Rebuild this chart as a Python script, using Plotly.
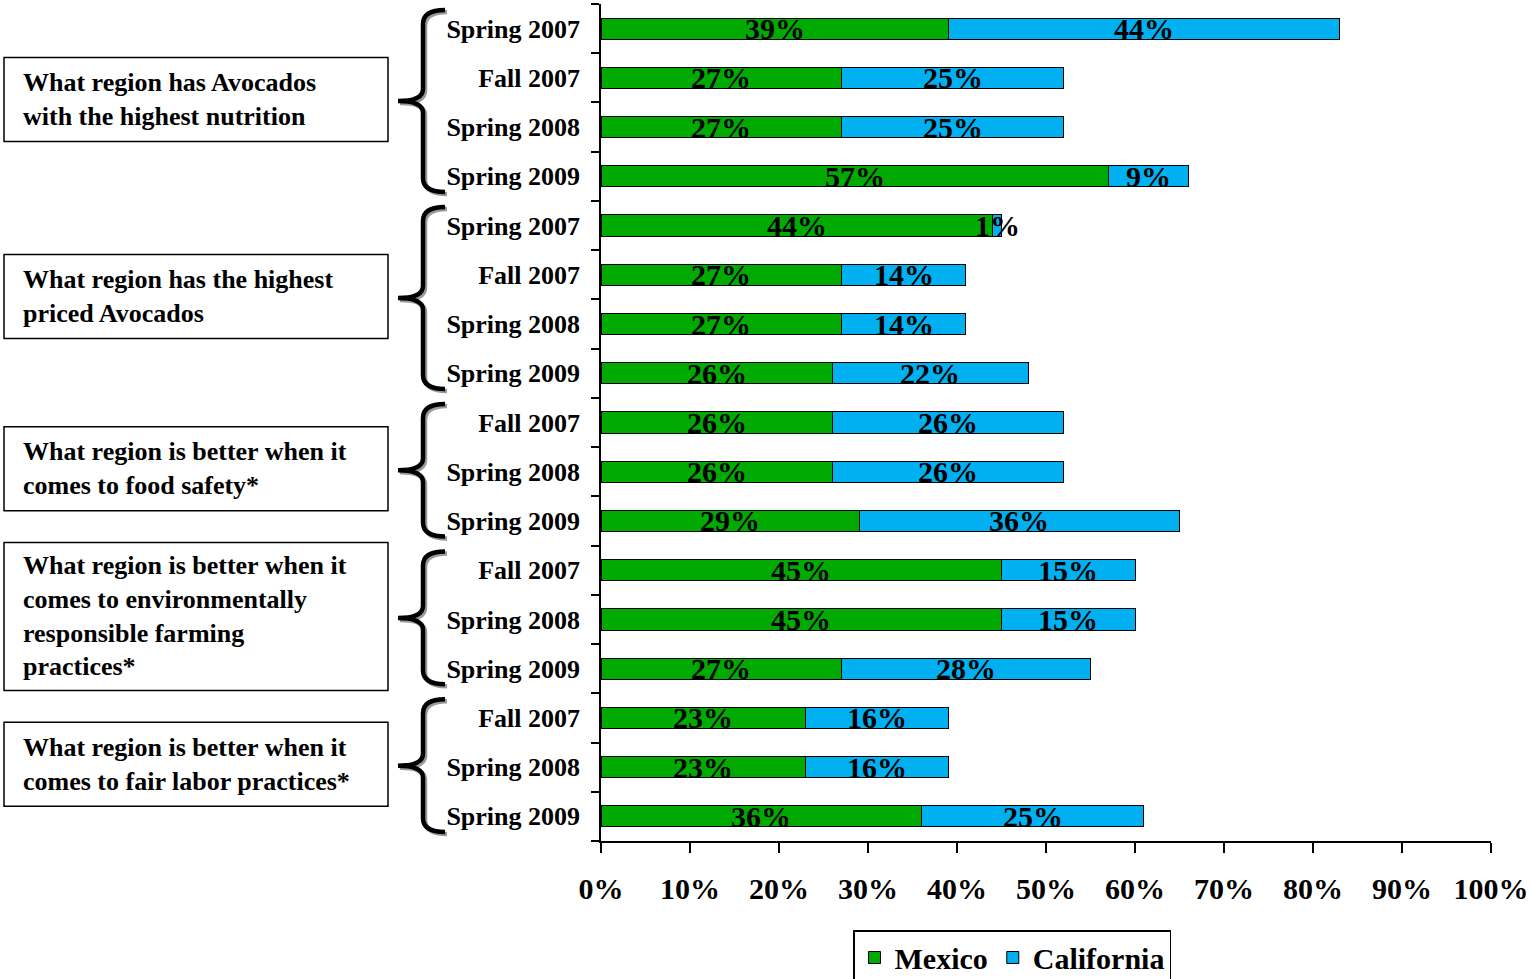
import plotly.graph_objects as go

# ---------------- data ----------------
periods = ["Spring 2007", "Fall 2007", "Spring 2008", "Spring 2009",
           "Spring 2007", "Fall 2007", "Spring 2008", "Spring 2009",
           "Fall 2007", "Spring 2008", "Spring 2009",
           "Fall 2007", "Spring 2008", "Spring 2009",
           "Fall 2007", "Spring 2008", "Spring 2009"]
mexico = [39, 27, 27, 57, 44, 27, 27, 26, 26, 26, 29, 45, 45, 27, 23, 23, 36]
california = [44, 25, 25, 9, 1, 14, 14, 22, 26, 26, 36, 15, 15, 28, 16, 16, 25]
questions = [
    "What region has Avocados<br>with the highest nutrition",
    "What region has the highest<br>priced Avocados",
    "What region is better when it<br>comes to food safety*",
    "What region is better when it<br>comes to environmentally<br>responsible farming<br>practices*",
    "What region is better when it<br>comes to fair labor practices*",
]
group_sizes = [4, 4, 3, 3, 3]
x_ticks = list(range(0, 101, 10))
x_tick_labels = [f"{v}%" for v in x_ticks]

# ---------------- layout geometry ----------------
W, H = 1531, 979
ML, MR, MT, MB = 601, 40, 4, 138
PW, PH = W - ML - MR, H - MT - MB
N = len(periods)
BAND = PH / N
FONT = "Liberation Serif, Times New Roman, serif"
GREEN = "#00AA00"
BLUE = "#00B0F0"


def px(x):
    return (x - ML) / PW


def py(y):
    return (MT + PH - y) / PH


rows = list(range(N))

fig = go.Figure()
fig.add_trace(go.Bar(
    y=rows, x=mexico, orientation="h", name="Mexico", width=0.43,
    marker=dict(color=GREEN, line=dict(color="black", width=1)),
    hoverinfo="skip"))
fig.add_trace(go.Bar(
    y=rows, x=california, orientation="h", name="California", width=0.43,
    marker=dict(color=BLUE, line=dict(color="black", width=1)),
    hoverinfo="skip"))

annotations = []
for i in rows:
    m, c = mexico[i], california[i]
    annotations.append(dict(x=m / 2, y=i, xref="x", yref="y", text=f"{m}%",
                            showarrow=False, yshift=0,
                            font=dict(family=FONT, size=30, color="black", weight="bold")))
    annotations.append(dict(x=m + c / 2, y=i, xref="x", yref="y", text=f"{c}%",
                            showarrow=False, yshift=0,
                            font=dict(family=FONT, size=30, color="black", weight="bold")))

shapes = []
start = 0
for g, size in enumerate(group_sizes):
    band_top = MT + start * BAND
    band_bot = MT + (start + size) * BAND
    center = (band_top + band_bot) / 2 - 3
    nlines = questions[g].count("<br>") + 1
    bh = nlines * 32 + 20
    shapes.append(dict(type="rect", xref="paper", yref="paper",
                       x0=px(4), x1=px(388), y0=py(center - bh / 2), y1=py(center + bh / 2),
                       line=dict(color="black", width=1.5), fillcolor="white", layer="above"))
    annotations.append(dict(x=px(21), y=py(center), xref="paper", yref="paper",
                            xanchor="left", yanchor="middle", align="left",
                            text=questions[g], showarrow=False,
                            font=dict(family=FONT, size=26, color="black", weight="bold")))
    # brace
    top = band_top + 6
    bot = band_bot - 9
    mid = (top + bot) / 2
    for off, col in ((2, "#9a9a9a"), (0, "black")):
        xr, xm, xl = 445 + off, 423 + off, 398 + off
        t, b, mm = top + off, bot + off, mid + off
        pts = (f"M {px(xr)},{py(t)} Q {px(xm)},{py(t)} {px(xm)},{py(t + 14)} "
               f"L {px(xm)},{py(mm - 12)} Q {px(xm)},{py(mm)} {px(xl)},{py(mm)} "
               f"Q {px(xm)},{py(mm)} {px(xm)},{py(mm + 12)} "
               f"L {px(xm)},{py(b - 14)} Q {px(xm)},{py(b)} {px(xr)},{py(b)}")
        shapes.append(dict(type="path", xref="paper", yref="paper", path=pts,
                           line=dict(color=col, width=4.5)))
    start += size

fig.update_layout(
    width=W, height=H,
    margin=dict(l=ML, r=MR, t=MT, b=MB, autoexpand=False),
    barmode="stack",
    plot_bgcolor="white", paper_bgcolor="white",
    font=dict(family=FONT, color="black", weight="bold"),
    showlegend=True,
    legend=dict(orientation="h", x=px(1012), xanchor="center",
                y=py(930), yanchor="top", yref="paper",
                bordercolor="black", borderwidth=1.5,
                font=dict(family=FONT, size=30, color="black", weight="bold"),
                traceorder="normal"),
    xaxis=dict(range=[0, 100], tickvals=x_ticks, ticktext=x_tick_labels,
               showgrid=False, zeroline=False, showline=True, linecolor="black", linewidth=1.5,
               ticks="outside", ticklen=10, tickwidth=1.5, tickcolor="black",
               ticklabelstandoff=10, automargin=False,
               tickfont=dict(family=FONT, size=30, color="black", weight="bold")),
    yaxis=dict(range=[N - 0.5, -0.5], tickvals=rows, ticktext=periods,
               showgrid=False, zeroline=False, showline=True, linecolor="black", linewidth=1.5,
               ticks="", ticklabelstandoff=14, automargin=False,
               minor=dict(tickvals=[i - 0.5 for i in range(N + 1)], ticks="outside",
                          ticklen=8, tickwidth=1.5, tickcolor="black", showgrid=False),
               tickfont=dict(family=FONT, size=26, color="black", weight="bold")),
    annotations=annotations,
    shapes=shapes,
)

fig.write_html("out.html", config={"displayModeBar": False})

# remove the default page margin so the figure sits at the window's top-left corner
with open("out.html", encoding="utf-8") as f:
    html = f.read()
html = html.replace("<head>", "<head><style>html,body{margin:0;padding:0;overflow:hidden}</style>", 1)
with open("out.html", "w", encoding="utf-8") as f:
    f.write(html)
